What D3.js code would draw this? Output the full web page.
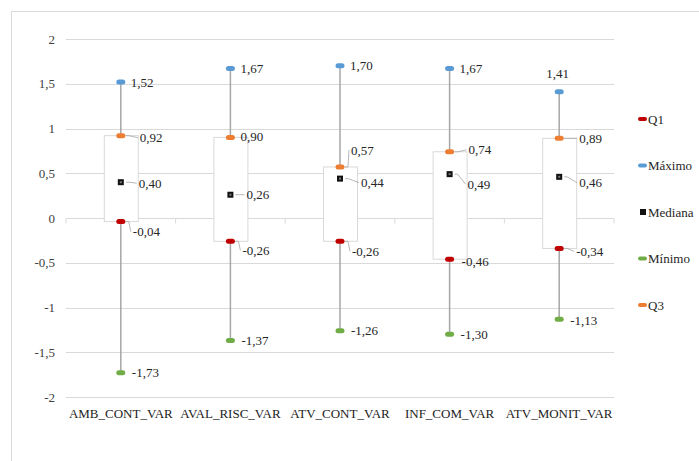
<!DOCTYPE html>
<html>
<head>
<meta charset="utf-8">
<script src="https://cdn.jsdelivr.net/npm/d3@7"></script>
<style>
  body { margin: 0; background: #fff; }
</style>
</head>
<body>
<div id="container"></div>
<script>
/* DATA */
const categories = ["AMB_CONT_VAR", "AVAL_RISC_VAR", "ATV_CONT_VAR", "INF_COM_VAR", "ATV_MONIT_VAR"];
const maximo  = [1.52, 1.67, 1.70, 1.67, 1.41];
const q3      = [0.92, 0.90, 0.57, 0.74, 0.89];
const mediana = [0.40, 0.26, 0.44, 0.49, 0.46];
const q1      = [-0.04, -0.26, -0.26, -0.46, -0.34];
const minimo  = [-1.73, -1.37, -1.26, -1.30, -1.13];
const yTicks  = [2, 1.5, 1, 0.5, 0, -0.5, -1, -1.5, -2];

const legendNames = ["Q1", "Máximo", "Mediana", "Mínimo", "Q3"];
const colors = {Q1: "#c00000", "Máximo": "#5b9bd5", Mediana: "#111", "Mínimo": "#70ad47", Q3: "#ed7d31"};

// label placement [dx, dy] from the marker centre (left edge / middle of label)
const labelOffsets = {
  "Máximo":  [[10, 0], [10, 0], [10, 0], [10, 0], [-13, -18]],
  Q3:        [[19, 2], [10, -1], [11, -17], [19, -2], [20, 0]],
  Mediana:   [[18, 1], [16, 0], [21, 4], [18, 10], [20, 6]],
  Q1:        [[12, 10], [12, 9], [12, 10], [12, 2], [17, 3]],
  "Mínimo":  [[11, 0], [11, 0], [11, 0], [11, 0], [11, 1]]
};

const FONT = "Liberation Serif";

/* CONSTANTS AND GLOBALS */
const W = 699, H = 461;
const plot = {left: 66, right: 614, top: 39, bottom: 397};

const svg = d3.select("#container")
  .append("svg")
    .attr("width", W)
    .attr("height", H)
    .attr("font-family", FONT);

// outer chart border
svg.append("rect")
  .attr("x", 11.5).attr("y", 11.5)
  .attr("width", W + 20).attr("height", H + 20)
  .attr("fill", "none")
  .attr("stroke", "#d9d9d9");

const x = d3.scaleBand()
  .domain(categories)
  .range([plot.left, plot.right]);

const y = d3.scaleLinear()
  .domain([-2, 2])
  .range([plot.bottom, plot.top]);

/* GRID + Y AXIS */
svg.append("g")
  .selectAll("line")
  .data(yTicks)
  .join("line")
    .attr("x1", plot.left).attr("x2", plot.right)
    .attr("y1", d => Math.round(y(d)) + 0.5)
    .attr("y2", d => Math.round(y(d)) + 0.5)
    .attr("stroke", "#d9d9d9");

svg.append("g")
  .selectAll("text")
  .data(yTicks)
  .join("text")
    .attr("x", 55)
    .attr("y", d => y(d))
    .attr("dy", "0.35em")
    .attr("text-anchor", "end")
    .attr("font-family", FONT)
    .attr("font-size", 13)
    .attr("fill", "#404040")
    .text(d => String(d).replace(".", ","));

// category axis at zero with small tick marks
const zeroY = Math.round(y(0)) + 0.5;
svg.append("g")
  .selectAll("line")
  .data(d3.range(categories.length + 1))
  .join("line")
    .attr("x1", i => plot.left + i * x.step())
    .attr("x2", i => plot.left + i * x.step())
    .attr("y1", zeroY).attr("y2", zeroY + 5)
    .attr("stroke", "#d9d9d9");

svg.append("g")
  .selectAll("text")
  .data(categories)
  .join("text")
    .attr("x", d => x(d) + x.bandwidth() / 2)
    .attr("y", 413)
    .attr("dy", "0.35em")
    .attr("text-anchor", "middle")
    .attr("font-family", FONT)
    .attr("font-size", 13)
    .attr("fill", "#222")
    .text(d => d);

/* BOXES */
const boxW = 34;
const cx = i => x(categories[i]) + x.bandwidth() / 2;

const g = svg.append("g");
categories.forEach((c, i) => {
  g.append("line")
    .attr("x1", cx(i)).attr("x2", cx(i))
    .attr("y1", y(maximo[i])).attr("y2", y(minimo[i]))
    .attr("stroke", "#a6a6a6")
    .attr("stroke-width", 1.5);
  g.append("rect")
    .attr("x", cx(i) - boxW / 2 + 0.5)
    .attr("y", y(q3[i]))
    .attr("width", boxW)
    .attr("height", y(q1[i]) - y(q3[i]))
    .attr("fill", "#fff")
    .attr("stroke", "#d9d9d9");
});

/* MARKERS + LABELS */
const seriesValues = {Q1: q1, "Máximo": maximo, Mediana: mediana, "Mínimo": minimo, Q3: q3};
const fmt = v => v.toFixed(2).replace(".", ",");

legendNames.forEach(name => {
  const vals = seriesValues[name];
  vals.forEach((v, i) => {
    const px = cx(i), py = y(v);
    const [dx, dy] = labelOffsets[name][i];
    // leader line
    if (dx > 0 && (dx > 14 || Math.abs(dy) > 8)) {
      const sx = px + 5, sy = py;
      const ex = px + dx - 2, ey = py + dy;
      g.append("path")
        .attr("d", `M${sx},${sy} L${sx + 3},${sy} L${ex},${ey}`)
        .attr("fill", "none")
        .attr("stroke", "#a6a6a6")
        .attr("stroke-width", 0.8);
    }
    if (name === "Mediana") {
      g.append("rect")
        .attr("x", px - 3).attr("y", py - 3)
        .attr("width", 6).attr("height", 6)
        .attr("fill", "#111");
      g.append("rect")
        .attr("x", px - 1).attr("y", py - 1)
        .attr("width", 2).attr("height", 2)
        .attr("fill", "#777");
    } else {
      g.append("rect")
        .attr("x", px - 4.5).attr("y", py - 2.5)
        .attr("width", 9).attr("height", 5)
        .attr("rx", 2.5)
        .attr("fill", colors[name]);
    }
    g.append("text")
      .attr("x", px + dx)
      .attr("y", py + dy)
      .attr("dy", "0.35em")
      .attr("font-family", FONT)
      .attr("font-size", 13)
      .attr("fill", "#262626")
      .text(fmt(v));
  });
});

/* LEGEND */
const legend = svg.append("g");
legendNames.forEach((name, i) => {
  const ly = 119 + i * 46.5;
  if (name === "Mediana") {
    legend.append("rect")
      .attr("x", 640).attr("y", ly - 3)
      .attr("width", 6).attr("height", 6)
      .attr("fill", "#111");
  } else {
    legend.append("rect")
      .attr("x", 638).attr("y", ly - 2)
      .attr("width", 9).attr("height", 4)
      .attr("rx", 2)
      .attr("fill", colors[name]);
  }
  legend.append("text")
    .attr("x", 648)
    .attr("y", ly)
    .attr("dy", "0.35em")
    .attr("font-family", FONT)
    .attr("font-size", 13)
    .attr("fill", "#262626")
    .text(name);
});
</script>
</body>
</html>
